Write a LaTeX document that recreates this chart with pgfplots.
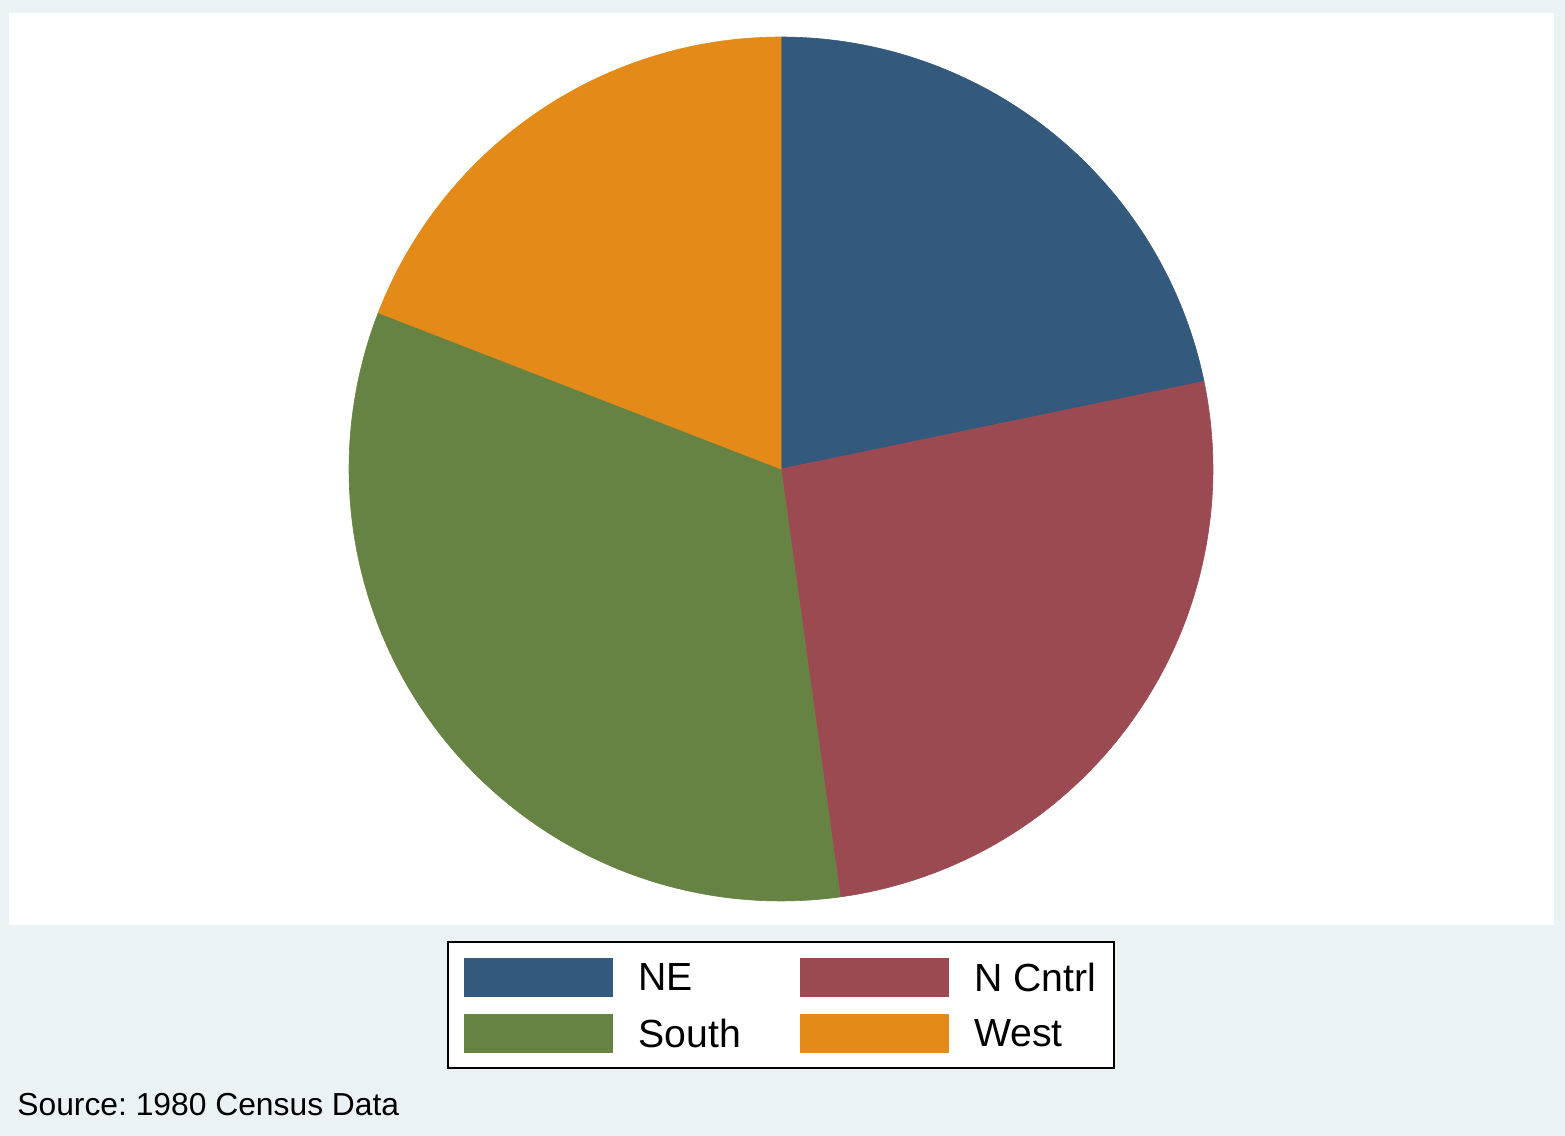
\documentclass[border=0pt]{standalone}
\usepackage{pgfplots}
\usepackage{pgfplotstable}
\pgfplotsset{compat=1.18}
\usepackage{fontspec}
\setmainfont{Liberation Sans}
\frenchspacing
\definecolor{bgc}{RGB}{234,242,243}
\definecolor{cNE}{RGB}{51,89,125}
\definecolor{cNC}{RGB}{156,74,81}
\definecolor{cSO}{RGB}{103,131,68}
\definecolor{cWE}{RGB}{228,138,25}
\pgfplotstableread{
region pct
NE 21.75
NCntrl 26.06
South 33.08
West 19.11
}\pietable
\begin{document}
\begin{tikzpicture}
\fill[bgc] (0,0) rectangle (782.5pt,568pt);
\fill[white] (4.5pt,105.5pt) rectangle (777pt,561.5pt);
\pgfplotstablegetelem{0}{pct}\of\pietable \let\pA\pgfplotsretval
\pgfplotstablegetelem{1}{pct}\of\pietable \let\pB\pgfplotsretval
\pgfplotstablegetelem{2}{pct}\of\pietable \let\pC\pgfplotsretval
\pgfplotstablegetelem{3}{pct}\of\pietable \let\pD\pgfplotsretval
\pgfmathsetmacro\aA{90}
\pgfmathsetmacro\aB{\aA-3.6*\pA}
\pgfmathsetmacro\aC{\aB-3.6*\pB}
\pgfmathsetmacro\aD{\aC-3.6*\pC}
\pgfmathsetmacro\aE{\aD-3.6*\pD}
\begin{axis}[
  at={(390.5pt,333.5pt)}, anchor=center,
  width=432pt, height=432pt, scale only axis,
  xmin=-1, xmax=1, ymin=-1, ymax=1,
  hide axis, clip=false,
  legend columns=2,
  legend cell align=left,
  legend image code/.code={\fill[#1] (0pt,-8.75pt) rectangle (74pt,10.25pt); \path (87pt,0pt);},
  legend style={at={(0.5,-0.0463)}, anchor=north, draw=black, line width=1pt,
    fill=white, inner xsep=8pt, inner ysep=8pt, row sep=8.5pt, column sep=0pt,
    font=\fontsize{19.6pt}{23pt}\selectfont,
    nodes={inner sep=0pt}},
]
\addplot[fill=cNE, draw=cNE, line width=0.3pt, domain=\aB:\aA, samples=90] ({cos(x)},{sin(x)}) -- (axis cs:0,0) -- cycle;
\addlegendentry{\makebox[80.5pt][l]{NE}}
\addplot[fill=cNC, draw=cNC, line width=0.3pt, domain=\aC:\aB, samples=90] ({cos(x)},{sin(x)}) -- (axis cs:0,0) -- cycle;
\addlegendentry{\makebox[62pt][l]{N Cntrl}}
\addplot[fill=cSO, draw=cSO, line width=0.3pt, domain=\aD:\aC, samples=110] ({cos(x)},{sin(x)}) -- (axis cs:0,0) -- cycle;
\addlegendentry{\makebox[80.5pt][l]{South}}
\addplot[fill=cWE, draw=cWE, line width=0.3pt, domain=\aE:\aD, samples=80] ({cos(x)},{sin(x)}) -- (axis cs:0,0) -- cycle;
\addlegendentry{\makebox[62pt][l]{West}}
\end{axis}
\node[anchor=base west, inner sep=0pt, font=\fontsize{15.9pt}{19pt}\selectfont] at (8.5pt,10pt) {Source: 1980 Census Data};
\end{tikzpicture}
\end{document}
